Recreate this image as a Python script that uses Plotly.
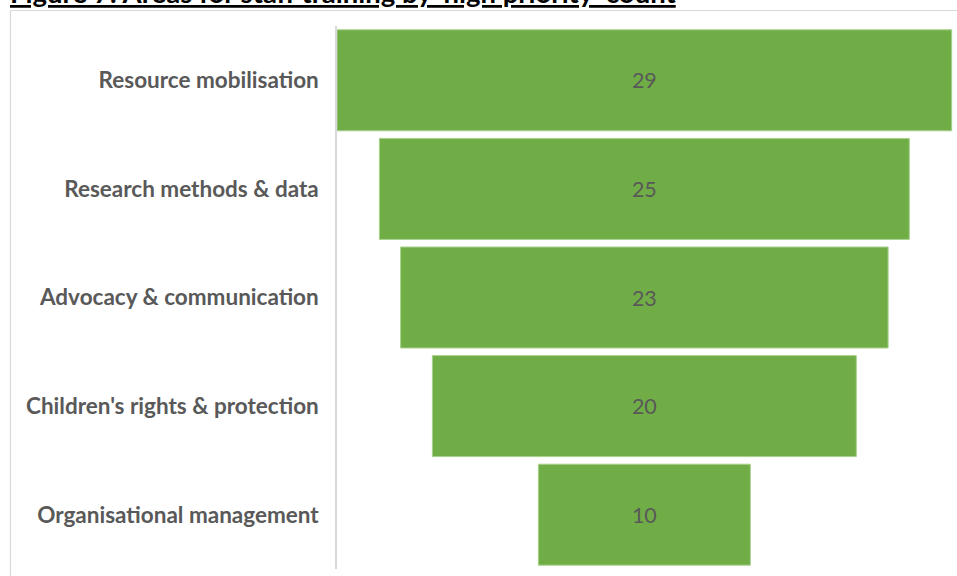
import plotly.graph_objects as go

# Training areas ranked by number of "high priority" responses
areas = [
    "Resource mobilisation",
    "Research methods & data",
    "Advocacy & communication",
    "Children's rights & protection",
    "Organisational management",
]
counts = [29, 25, 23, 20, 10]

title_text = "Figure 7: Areas for staff training by 'high priority' count"

GREEN = "#70AD47"
LABEL_GREY = "#595959"
RULE_GREY = "#D9D9D9"
FONT = "Lato, 'Open Sans', sans-serif"

W, H = 957, 576
ML, MR, MT, MB = 337, 0, 26, 7
PW = W - ML - MR
PH = H - MT - MB

fig = go.Figure(
    go.Funnel(
        y=areas,
        x=counts,
        textinfo="value",
        textposition="inside",
        insidetextanchor="middle",
        textfont=dict(family=FONT, size=21.5, color=LABEL_GREY),
        marker=dict(color=GREEN, line=dict(color="#A9D18E", width=1)),
        connector=dict(visible=False),
        hoverinfo="y+x",
    )
)

fig.update_layout(
    width=W,
    height=H,
    margin=dict(l=ML, r=MR, t=MT, b=MB, autoexpand=False),
    paper_bgcolor="white",
    plot_bgcolor="white",
    showlegend=False,
    funnelgap=0.07,
    xaxis=dict(
        visible=False,
        range=[-14.5, 14.75],
        fixedrange=True,
    ),
    yaxis=dict(
        showline=True,
        linecolor=RULE_GREY,
        linewidth=1.5,
        showgrid=False,
        zeroline=False,
        ticks="",
        ticklabelstandoff=12,
        tickfont=dict(family=FONT, size=22.5, color=LABEL_GREY, weight="bold"),
        automargin=False,
    ),
)

# Chart frame (left and top edges visible in the page)
fx0 = (10.5 - ML) / PW
fy_top = 1 + (MT - 10.5) / PH
fig.add_shape(type="line", xref="paper", yref="paper",
              x0=fx0, x1=fx0, y0=-MB / PH - 0.01, y1=fy_top,
              line=dict(color=RULE_GREY, width=1.2))
fig.add_shape(type="line", xref="paper", yref="paper",
              x0=fx0, x1=1.01, y0=fy_top, y1=fy_top,
              line=dict(color=RULE_GREY, width=1.2))

# Figure caption sitting above the frame, partly above the page edge
fig.add_annotation(
    text="<b><u>" + title_text + "</u></b>",
    xref="paper", yref="paper",
    x=(8 - ML) / PW, xanchor="left",
    y=1 + (MT - 11) / PH, yanchor="bottom",
    showarrow=False,
    font=dict(family=FONT, size=27.5, color="black"),
)

fig.write_html("out.html")
